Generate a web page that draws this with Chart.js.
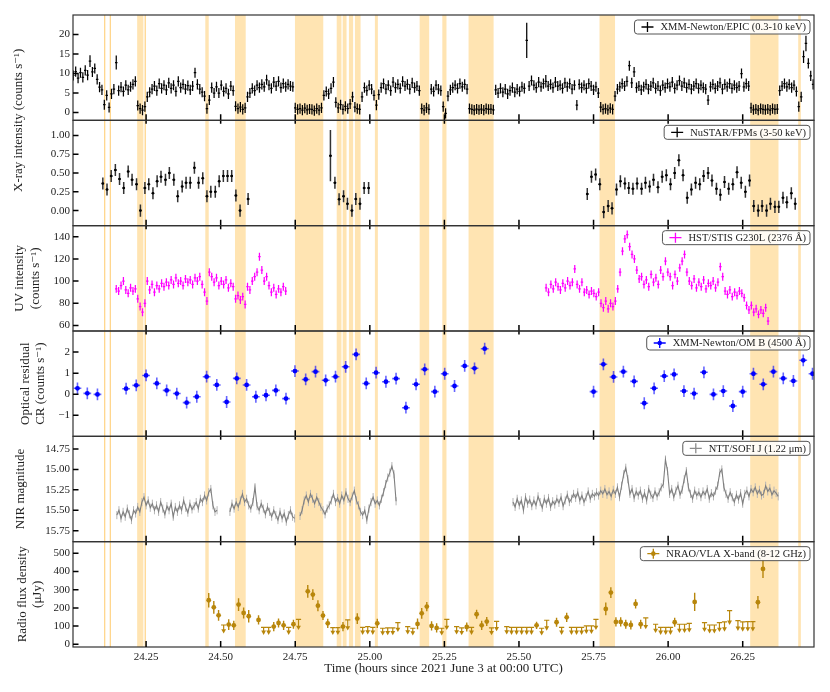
<!DOCTYPE html>
<html>
<head>
<meta charset="utf-8">
<script src="https://cdn.jsdelivr.net/npm/chart.js@4.4.1/dist/chart.umd.min.js"></script>
<style>
html, body { margin: 0; padding: 0; background: #fff; }
</style>
</head>
<body>
<canvas id="lc" width="830" height="692"></canvas>
<script>
// ---- x range, ticks and shaded intervals ----
const xMin = 24.005, xMax = 26.489;
const xTicks = [24.25, 24.5, 24.75, 25.0, 25.25, 25.5, 25.75, 26.0, 26.25];
const bandStart = [24.109, 24.128, 24.220, 24.245, 24.4485, 24.548, 24.749, 24.889, 24.909, 24.930, 24.950, 25.017, 25.167, 25.243, 25.331, 25.770, 26.275, 26.436];
const bandEnd   = [24.111, 24.130, 24.241, 24.249, 24.460, 24.584, 24.844, 24.905, 24.922, 24.944, 24.969, 25.027, 25.199, 25.257, 25.415, 25.822, 26.370, 26.445];

// ---- y tick values per panel ----
const ticksXray  = [0, 5, 10, 15, 20];
const ticksHard  = [0, 0.25, 0.5, 0.75, 1.0];
const ticksUV    = [60, 80, 100, 120, 140];
const ticksOpt   = [-1, 0, 1, 2];
const ticksNIR   = [14.75, 15.0, 15.25, 15.5, 15.75];
const ticksRadio = [0, 100, 200, 300, 400, 500];

// ---- XMM-Newton/EPIC (regular bins) ----
const xmmStart = 24.006, xmmStep = 0.008, xmmErr = 1.3;
const xmmRate = [
  9.5, 10.5, 8.8, 10.2, 9.0, 10.8, 9.6, 13.2, 10.4, 11.3,
  8.5, 6.5, 5.8, 2.0, 4.4, 1.3, 4.8, 6.0, 12.8, 5.6,
  6.5, 5.4, 7.0, 5.8, 6.6, 7.2, 8.0, 1.8, 1.0, 0.6,
  1.5, 4.0, 5.2, 6.0, 6.8, 5.6, 7.4, 6.2, 7.0, 5.8,
  7.6, 6.2, 7.0, 5.4, 8.0, 6.4, 7.2, 6.0, 6.9, 5.8,
  6.8, 10.2, 7.2, 6.0, 5.2, 4.2, 1.0, 3.2, 6.4, 5.0,
  6.6, 5.0, 7.0, 5.4, 6.2, 4.8, 6.8, 5.6, 1.6, 1.0,
  1.4, 0.8, 1.2, 4.0, 5.0, 6.2, 5.6, 7.0, 6.4, 7.2,
  6.6, 8.4, 7.0, 6.2, 7.8, 6.8, 8.0, 6.4, 7.4, 6.6,
  7.2, 6.8, 6.6, 1.2, 0.8, 1.0, 0.6, 1.1, 0.7, 0.9,
  0.8, 0.5, 1.0, 0.6, 1.2, 4.4, 5.4, 4.8, 6.2, 7.8,
  2.6, 1.2, 2.0, 0.8, 1.6, 1.0, 2.2, 4.0, 1.4, 1.0,
  0.8, 4.0, 6.4, 5.6, 7.0, 6.0, 4.4, 1.9, 4.6, 6.4,
  7.4, 6.0, 7.0, 5.6, 7.8, 6.4, 7.2, 6.2, 8.0, 6.8,
  7.2, 6.0, 7.6, 6.4, 6.8, 5.6, 1.0, 0.6, 1.2, 0.8,
  6.0, 5.4, 7.0, 6.0, 5.6, 1.5, -0.2, 4.2, 5.8, 6.4,
  7.0, 6.2, 7.4, 6.6, 7.2, 6.0, 1.0, 0.8, 0.6, 0.9,
  0.7, 0.9, 0.6, 1.0, 0.8, 0.9, 0.7, 5.8, 5.0, 6.2,
  5.2, 6.0, 4.8, 5.6, 6.4, 5.2, 6.0, 5.4, 6.6, 6.2,
  18.5, 6.8, 8.2, 7.0, 6.4, 7.8, 6.6, 7.4, 8.0, 6.8,
  7.2, 6.4, 7.8, 6.8, 7.0, 6.2, 7.6, 6.6, 7.4, 6.0,
  7.0, 1.9, 7.2, 6.4, 7.0, 6.2, 7.4, 6.8, 5.8, 6.6,
  5.0, 1.4, 0.8, 1.0, 0.7, 1.1, 0.8, 4.2, 6.0, 6.6,
  7.4, 6.8, 8.0, 12.0, 7.6, 10.4, 6.4, 6.8, 5.8, 6.6,
  7.2, 6.0, 6.8, 7.6, 6.2, 6.8, 5.6, 7.0, 6.4, 7.4,
  6.6, 7.8, 6.2, 7.0, 8.2, 6.8, 7.6, 6.4, 7.2, 6.0,
  6.8, 7.4, 6.2, 7.0, 6.4, 6.0, 3.2, 6.6, 7.2, 6.2,
  6.8, 7.6, 6.0, 7.2, 6.6, 7.4, 6.2, 7.0, 6.4, 6.8,
  10.0, 6.6, 7.4, 6.8, 1.2, 0.7, 0.9, 0.6, 1.0, 0.8,
  0.7, 0.9, 0.6, 1.0, 0.8, 0.9, 5.6, 6.8, 7.4, 6.6,
  7.2, 6.4, 7.0, 5.4, 1.5, 4.0, 14.3, 17.7, 12.6, 9.4, 7.2
];
const xmmBigIdx = [7, 18, 190, 198, 306, 307];
const xmmBigErr = [1.5, 1.8, 4.5, 1.6, 1.6, 2.0];

// ---- NuSTAR/FPMs ----
const nustarT = [
  24.105, 24.119, 24.133, 24.147, 24.161, 24.175, 24.190, 24.203, 24.218, 24.231, 24.246, 24.259, 24.273, 24.287, 24.300,
  24.315, 24.328, 24.343, 24.356, 24.371, 24.384, 24.398, 24.412, 24.426, 24.440, 24.454, 24.467, 24.482, 24.495, 24.509,
  24.523, 24.537, 24.551, 24.565, 24.592,
  24.868, 24.883, 24.897, 24.912, 24.925, 24.940, 24.953, 24.967, 24.981, 24.996,
  25.729, 25.743, 25.757, 25.771, 25.784, 25.799, 25.812, 25.827, 25.840, 25.855, 25.868, 25.882, 25.896, 25.911, 25.924,
  25.938, 25.951, 25.966, 25.980, 25.994, 26.008, 26.022, 26.036, 26.050, 26.064, 26.078, 26.092, 26.106, 26.119, 26.134,
  26.147, 26.162, 26.175, 26.189, 26.203, 26.217, 26.231, 26.245, 26.259, 26.273, 26.287, 26.302, 26.315, 26.330, 26.343,
  26.358, 26.371, 26.385, 26.398, 26.413, 26.426
];
const nustarRate = [
  0.36, 0.28, 0.46, 0.54, 0.42, 0.30, 0.52, 0.41, 0.35, 0.00, 0.30, 0.35, 0.23, 0.39, 0.45,
  0.41, 0.50, 0.41, 0.19, 0.32, 0.37, 0.37, 0.57, 0.37, 0.43, 0.19, 0.25, 0.25, 0.39, 0.46,
  0.46, 0.46, 0.20, 0.00, 0.155,
  0.73, 0.37, 0.15, 0.19, 0.09, 0.00, 0.155, 0.09, 0.30, 0.30,
  0.22, 0.45, 0.48, 0.35, -0.02, 0.06, 0.03, 0.28, 0.39, 0.36, 0.30, 0.29, 0.36, 0.29, 0.37,
  0.32, 0.41, 0.31, 0.45, 0.47, 0.35, 0.50, 0.67, 0.47, 0.17, 0.28, 0.37, 0.35, 0.46, 0.50,
  0.40, 0.29, 0.21, 0.38, 0.29, 0.35, 0.51, 0.37, 0.25, 0.40, 0.06, 0.00, 0.06, 0.00, 0.09,
  0.05, 0.05, 0.17, 0.11, 0.23, 0.09
];
const nustarErr = 0.08, nustarBigIdx = [35], nustarBigErr = [0.34];

// ---- HST/STIS G230L (two visits, regular bins) ----
const hstStep = 0.008, hstErr = 3.6;
const hstStart1 = 24.150;
const hstRate1 = [
  93, 91, 96, 100, 92, 89, 94, 91, 93, 84,
  77, 72, 80, 100, 92, 97, 90, 96, 93, 98,
  95, 99, 96, 101, 97, 103, 98, 100, 96, 102,
  99, 101, 97, 103, 100, 104, 97, 90, 82, 108,
  104, 99, 103, 96, 100, 97, 101, 94, 98, 95,
  84, 87, 83, 86, 79, 95, 92, 100, 104, 108,
  122, 110, 100, 104, 96, 90, 94, 88, 93, 90,
  95, 91
];
const hstStart2 = 25.591;
const hstRate2 = [
  94, 90, 97, 93, 99, 95, 92, 98, 94, 100,
  96, 99, 111, 97, 93, 99, 90, 92, 88, 91,
  89, 86, 90, 80, 76, 82, 75, 80, 77, 82,
  93, 108, 127, 138, 142, 131, 124, 120, 110, 102,
  104, 97, 101, 95, 106, 99, 103, 97, 110, 104,
  118, 108, 104, 96, 106, 100, 112, 118, 124, 108,
  100, 96, 102, 94, 99, 95, 101, 93, 98, 96,
  100, 94, 99, 113, 104, 91, 88, 92, 86, 90,
  87, 91, 89, 85, 78, 74, 78, 72, 75, 70,
  74, 71, 76, 64
];

// ---- XMM-Newton/OM B ----
const omT = [
  24.020, 24.053, 24.087, 24.183, 24.217, 24.250, 24.286, 24.319, 24.353, 24.386, 24.420, 24.453, 24.487, 24.520, 24.554,
  24.587, 24.618, 24.652, 24.685, 24.719, 24.749, 24.785, 24.818, 24.852, 24.885, 24.919, 24.954, 24.988, 25.021, 25.054,
  25.088, 25.121, 25.155, 25.184, 25.218, 25.251, 25.284, 25.318, 25.351, 25.385,
  25.750, 25.783, 25.817, 25.850, 25.886, 25.920, 25.953, 25.987, 26.020, 26.053, 26.087, 26.120, 26.152, 26.185, 26.217,
  26.250, 26.286, 26.319, 26.353, 26.386, 26.420, 26.453, 26.484
];
const omRate = [
  0.28, 0.04, -0.01, 0.26, 0.42, 0.89, 0.51, 0.18, 0.03, -0.40, -0.12, 0.83, 0.44, -0.37, 0.75,
  0.44, -0.12, -0.05, 0.18, -0.21, 1.10, 0.70, 1.07, 0.66, 0.83, 1.30, 1.89, 0.51, 1.02, 0.59,
  0.74, -0.64, 0.47, 1.18, 0.12, 0.97, 0.39, 1.34, 1.23, 2.16,
  0.12, 1.42, 0.82, 1.07, 0.61, -0.43, 0.28, 0.86, 0.94, 0.15, 0.03, 1.04, -0.01, 0.15, -0.56,
  0.12, 0.97, 0.47, 1.07, 0.75, 0.63, 1.61, 0.97
];
const omErrY = 0.28, omErrX = 0.013;

// ---- NTT/SOFI J (four runs, regular frames) ----
const nttStep = 0.007, nttErr = 0.05;
const nttStarts = [24.152, 24.531, 24.766, 25.480];
const nttMagA = [
  15.56, 15.50, 15.60, 15.52, 15.58, 15.48, 15.55, 15.62, 15.50, 15.54,
  15.46, 15.52, 15.40, 15.34, 15.44, 15.38, 15.47, 15.42, 15.50, 15.44,
  15.52, 15.40, 15.48, 15.55, 15.45, 15.50, 15.42, 15.58, 15.46, 15.52,
  15.44, 15.50, 15.38, 15.47, 15.53, 15.42, 15.49, 15.45, 15.40, 15.48,
  15.36, 15.40, 15.32, 15.38, 15.28, 15.24, 15.44, 15.52, 15.50
];
const nttMagB = [
  15.52, 15.42, 15.48, 15.40, 15.46, 15.38, 15.30, 15.40, 15.36, 15.44,
  15.48, 15.40, 15.22, 15.45, 15.50, 15.42, 15.48, 15.55, 15.46, 15.52,
  15.58, 15.50, 15.56, 15.62, 15.52, 15.60, 15.54, 15.64, 15.56, 15.50,
  15.58, 15.60
];
const nttMagC = [
  15.57, 15.50, 15.38, 15.32, 15.40, 15.30, 15.36, 15.42, 15.34, 15.40,
  15.46, 15.50, 15.55, 15.48, 15.44, 15.38, 15.30, 15.40, 15.35, 15.42,
  15.32, 15.38, 15.28, 15.36, 15.40, 15.33, 15.26, 15.38, 15.44, 15.52,
  15.56, 15.50, 15.62, 15.48, 15.40, 15.34, 15.42, 15.38, 15.44, 15.36,
  15.28, 15.18, 15.10, 15.04, 14.96, 15.06, 15.39
];
const nttMagD = [
  15.40, 15.46, 15.36, 15.44, 15.38, 15.50, 15.34, 15.42, 15.37, 15.45,
  15.38, 15.44, 15.33, 15.40, 15.47, 15.36, 15.42, 15.35, 15.46, 15.39,
  15.43, 15.36, 15.41, 15.34, 15.45, 15.38, 15.31, 15.40, 15.36, 15.30,
  15.35, 15.28, 15.38, 15.32, 15.40, 15.34, 15.27, 15.36, 15.30, 15.33,
  15.28, 15.32, 15.26, 15.30, 15.24, 15.31, 15.27, 15.33, 15.25, 15.30,
  15.22, 15.34, 15.20, 15.06, 14.98, 15.12, 15.30, 15.24, 15.35, 15.27,
  15.32, 15.26, 15.36, 15.29, 15.38, 15.24, 15.31, 15.35, 15.27, 15.33,
  15.28, 15.22, 15.18, 14.88, 15.02, 15.30, 15.24, 15.34, 15.26, 15.20,
  15.31, 15.25, 15.12, 15.02, 15.22, 15.30, 15.36, 15.26, 15.32, 15.28,
  15.34, 15.27, 15.31, 15.24, 15.36, 15.29, 15.33, 15.26, 15.20, 15.04,
  15.00, 15.22, 15.30, 15.36, 15.28, 15.34, 15.40, 15.31, 15.37, 15.29,
  15.42, 15.30, 15.26, 15.33, 15.24, 15.28, 15.22, 15.30, 15.25, 15.32,
  15.30, 15.20, 15.27, 15.23, 15.31, 15.26, 15.29, 15.33
];

// ---- NRAO/VLA X-band ----
const radioT = [
  24.460, 24.477, 24.493, 24.527, 24.544, 24.560, 24.577, 24.594, 24.627, 24.678, 24.694, 24.711, 24.744, 24.792, 24.809,
  24.826, 24.843, 24.859, 24.910, 24.958, 25.025, 25.160, 25.174, 25.191, 25.207, 25.224, 25.325, 25.358, 25.375, 25.392,
  25.559, 25.626, 25.660, 25.791, 25.808, 25.825, 25.841, 25.858, 25.875, 25.891, 25.908, 26.022, 26.089, 26.301, 26.318
];
const radioFlux = [
  242, 203, 159, 108, 104, 218, 172, 154, 134, 97, 117, 104, 110, 291, 273,
  212, 158, 115, 97, 141, 115, 112, 170, 207, 101, 90, 95, 165, 104, 125,
  104, 121, 148, 194, 284, 123, 123, 110, 106, 222, 110, 121, 233, 231, 414
];
const radioErr = [
  40, 35, 30, 30, 25, 35, 30, 35, 25, 25, 25, 25, 25, 35, 30,
  30, 25, 25, 25, 30, 25, 30, 30, 25, 25, 25, 25, 25, 25, 25,
  20, 25, 25, 35, 30, 25, 25, 25, 25, 25, 25, 25, 50, 35, 50
];
const radioLimT = [
  24.510, 24.644, 24.661, 24.728, 24.761, 24.876, 24.893, 24.926, 24.976, 24.993, 25.010, 25.043, 25.060, 25.077, 25.094,
  25.127, 25.144, 25.241, 25.258, 25.291, 25.308, 25.341, 25.408, 25.425, 25.459, 25.475, 25.492, 25.509, 25.526, 25.542,
  25.576, 25.593, 25.643, 25.676, 25.693, 25.710, 25.726, 25.743, 25.758, 25.925, 25.958, 25.975, 25.992, 26.008, 26.038,
  26.055, 26.071, 26.122, 26.139, 26.155, 26.172, 26.189, 26.206, 26.234, 26.250, 26.267, 26.284
];
const radioLim = [
  106, 93, 93, 93, 137, 92, 92, 134, 93, 97, 93, 88, 90, 90, 119,
  97, 88, 88, 137, 97, 90, 93, 90, 126, 97, 93, 93, 93, 93, 93,
  88, 132, 93, 93, 93, 93, 101, 101, 137, 145, 110, 93, 93, 93, 110,
  110, 115, 119, 106, 106, 119, 123, 185, 130, 123, 125, 125
];

const legendLabels = [
  'XMM-Newton/EPIC (0.3-10 keV)',
  'NuSTAR/FPMs (3-50 keV)',
  'HST/STIS G230L (2376 Å)',
  'XMM-Newton/OM B (4500 Å)',
  'NTT/SOFI J (1.22 μm)',
  'NRAO/VLA X-band (8-12 GHz)'
];

// ---------------------------------------------------------------
const SERIF = "'Liberation Serif', 'DejaVu Serif', serif";
Chart.defaults.font.family = SERIF;
Chart.defaults.color = '#222';

const GOLD = '#b8860b';
const panelIds = ['y1', 'y2', 'y3', 'y4', 'y5', 'y6'];
const legendColors = ['#000', '#000', '#ff00ff', '#0000ff', '#8c8c8c', GOLD];
const legendDot = [false, false, false, true, false, true];

function regular(start, step, vals) {
  return vals.map((v, i) => ({ x: start + i * step, y: v }));
}

const xmmData = regular(xmmStart, xmmStep, xmmRate);
const xmmErrs = xmmRate.map(() => xmmErr);
xmmBigIdx.forEach((k, j) => { xmmErrs[k] = xmmBigErr[j]; });

const nustarData = nustarT.map((t, i) => ({ x: t, y: nustarRate[i] }));
const nustarErrs = nustarT.map(() => nustarErr);
nustarBigIdx.forEach((k, j) => { nustarErrs[k] = nustarBigErr[j]; });

const hstData = regular(hstStart1, hstStep, hstRate1).concat(regular(hstStart2, hstStep, hstRate2));
const omData = omT.map((t, i) => ({ x: t, y: omRate[i] }));

// NIR runs joined by null points so the line breaks between them
const nttData = [];
[nttMagA, nttMagB, nttMagC, nttMagD].forEach((run, k) => {
  if (k > 0) nttData.push({ x: nttStarts[k] - 0.003, y: null });
  regular(nttStarts[k], nttStep, run).forEach(p => nttData.push(p));
});

const radioData = radioT.map((t, i) => ({ x: t, y: radioFlux[i] }));
const radioLimData = radioLimT.map((t, i) => ({ x: t, y: radioLim[i] }));

// stacked panels: the axis with the larger weight is placed higher
function yAxis(k, min, max, ticks, fmt, reverse) {
  return {
    type: 'linear', position: 'left', stack: 'panels', stackWeight: 1, weight: 7 - k,
    min: min, max: max, reverse: !!reverse,
    grid: { display: false, drawTicks: false },
    border: { display: false },
    ticks: { font: { size: 11 }, color: '#222', padding: 3, autoSkip: false, callback: fmt },
    afterBuildTicks: s => { s.ticks = ticks.map(v => ({ value: v })); },
    afterFit: s => { s.width = 73; }
  };
}
const plain = v => (v < 0 ? '\u2212' + Math.abs(v) : String(v));
const two = v => v.toFixed(2);

const yTitles = [
  { lines: ['X-ray intensity (counts s\u207B\u00B9)'], xs: [19], panel: 0, at: 'bottom' },
  { lines: ['UV intensity', '(counts s\u207B\u00B9)'], xs: [20, 36], panel: 2 },
  { lines: ['Optical residual', 'CR (counts s\u207B\u00B9)'], xs: [26, 41], panel: 3 },
  { lines: ['NIR magnitude'], xs: [21], panel: 4 },
  { lines: ['Radio flux density', '(\u03BCJy)'], xs: [22.5, 37.5], panel: 5 }
];

const decor = {
  id: 'decor',
  beforeDatasetsDraw(chart) {
    const { ctx, chartArea: a, scales } = chart;
    const xs = scales.x;
    ctx.save();
    // shaded intervals across all panels
    for (let i = 0; i < bandStart.length; i++) {
      const x0 = xs.getPixelForValue(bandStart[i]);
      const x1 = xs.getPixelForValue(bandEnd[i]);
      const w = Math.max(x1 - x0, 1.3);
      ctx.fillStyle = w < 2 ? 'rgba(255,165,0,0.45)' : 'rgba(255,165,0,0.3)';
      ctx.fillRect(x0, a.top, w, a.bottom - a.top);
    }
    // error bars and upper limits
    chart.data.datasets.forEach(ds => {
      if (ds.errY === undefined && !ds.upperLimit) return;
      const ys = scales[ds.yAxisID];
      ctx.save();
      ctx.beginPath();
      ctx.rect(a.left, ys.top, a.right - a.left, ys.bottom - ys.top);
      ctx.clip();
      ctx.strokeStyle = ds.errColor;
      ctx.fillStyle = ds.errColor;
      ctx.lineWidth = ds.errWidth;
      ds.data.forEach((p, i) => {
        if (p.y === null) return;
        const px = xs.getPixelForValue(p.x);
        const py = ys.getPixelForValue(p.y);
        if (ds.upperLimit) {
          const tip = ys.getPixelForValue(p.y * 0.6);
          ctx.beginPath();
          ctx.moveTo(px - 2.6, py); ctx.lineTo(px + 2.6, py);
          ctx.moveTo(px, py); ctx.lineTo(px, tip - 2);
          ctx.stroke();
          ctx.beginPath();
          ctx.moveTo(px - 2.4, tip - 3.5); ctx.lineTo(px + 2.4, tip - 3.5); ctx.lineTo(px, tip + 0.8);
          ctx.closePath(); ctx.fill();
          return;
        }
        const e = Array.isArray(ds.errY) ? ds.errY[i] : ds.errY;
        ctx.beginPath();
        ctx.moveTo(px, ys.getPixelForValue(p.y - e));
        ctx.lineTo(px, ys.getPixelForValue(p.y + e));
        if (ds.errX) {
          ctx.moveTo(xs.getPixelForValue(p.x - ds.errX), py);
          ctx.lineTo(xs.getPixelForValue(p.x + ds.errX), py);
        }
        ctx.stroke();
      });
      ctx.restore();
    });
    ctx.restore();
  },
  afterDraw(chart) {
    const { ctx, chartArea: a, scales } = chart;
    const xs = scales.x;
    ctx.save();
    panelIds.forEach((id, k) => {
      const s = scales[id];
      // frame
      ctx.strokeStyle = '#333';
      ctx.lineWidth = 1.2;
      ctx.strokeRect(a.left, s.top, a.right - a.left, s.bottom - s.top);
      // inward tick marks
      ctx.strokeStyle = '#000';
      ctx.lineWidth = 1.5;
      ctx.beginPath();
      s.ticks.forEach(t => {
        const py = s.getPixelForValue(t.value);
        ctx.moveTo(a.left, py); ctx.lineTo(a.left + 5.5, py);
      });
      xTicks.forEach(v => {
        const px = xs.getPixelForValue(v);
        ctx.moveTo(px, s.bottom - 6); ctx.lineTo(px, s.bottom + (k < 5 ? 3.5 : 0));
      });
      ctx.stroke();

      // legend box
      ctx.font = '10.5px ' + SERIF;
      const txt = legendLabels[k];
      const tw = ctx.measureText(txt).width;
      const right = a.right - 4, top = s.top + 5, h = 14;
      const left = right - tw - 30;
      ctx.beginPath();
      ctx.roundRect(left, top, right - left, h, 3);
      ctx.fillStyle = 'rgba(255,255,255,0.85)';
      ctx.fill();
      ctx.strokeStyle = '#555';
      ctx.lineWidth = 1;
      ctx.stroke();
      const mx = left + 13, my = top + h / 2;
      ctx.strokeStyle = legendColors[k];
      ctx.lineWidth = 1.3;
      ctx.beginPath();
      ctx.moveTo(mx - 6, my); ctx.lineTo(mx + 6, my);
      ctx.moveTo(mx, my - 5); ctx.lineTo(mx, my + 5);
      ctx.stroke();
      if (legendDot[k]) {
        ctx.fillStyle = legendColors[k];
        ctx.beginPath(); ctx.arc(mx, my, 2.3, 0, Math.PI * 2); ctx.fill();
      }
      ctx.fillStyle = '#222';
      ctx.textAlign = 'left';
      ctx.textBaseline = 'middle';
      ctx.fillText(txt, left + 26, my + 0.5);
    });

    // y axis titles
    ctx.font = '13px ' + SERIF;
    ctx.fillStyle = '#222';
    ctx.textAlign = 'center';
    ctx.textBaseline = 'middle';
    yTitles.forEach(t => {
      const s = scales[panelIds[t.panel]];
      const yc = t.at === 'bottom' ? s.bottom : (s.top + s.bottom) / 2;
      t.lines.forEach((line, j) => {
        ctx.save();
        ctx.translate(t.xs[j], yc);
        ctx.rotate(-Math.PI / 2);
        ctx.fillText(line, 0, 0);
        ctx.restore();
      });
    });
    ctx.restore();
  }
};

const datasets = [
  { data: xmmData, yAxisID: 'y1', pointRadius: 0, errY: xmmErrs, errX: 0.0042, errColor: '#000', errWidth: 1.25 },
  { data: nustarData, yAxisID: 'y2', pointRadius: 1.3, backgroundColor: '#000', borderWidth: 0,
    errY: nustarErrs, errX: 0.0045, errColor: '#333', errWidth: 1.5 },
  { data: hstData, yAxisID: 'y3', pointRadius: 0, errY: hstErr, errX: 0.0042, errColor: '#ff00ff', errWidth: 1.25 },
  { data: omData, yAxisID: 'y4', pointRadius: 2.4, backgroundColor: '#0000ff', borderWidth: 0,
    errY: omErrY, errX: omErrX, errColor: 'rgba(0,0,255,0.6)', errWidth: 1.6 },
  { data: nttData, yAxisID: 'y5', showLine: true, spanGaps: false, borderColor: '#7f7f7f', borderWidth: 1.1,
    pointRadius: 0, errY: nttErr, errColor: '#b5b5b5', errWidth: 1 },
  { data: radioData, yAxisID: 'y6', pointRadius: 2.4, backgroundColor: GOLD, borderWidth: 0,
    errY: radioErr, errColor: GOLD, errWidth: 1.4 },
  { data: radioLimData, yAxisID: 'y6', pointRadius: 0, upperLimit: true, errColor: GOLD, errWidth: 1.2 }
];

new Chart(document.getElementById('lc'), {
  type: 'scatter',
  data: { datasets: datasets },
  options: {
    responsive: false,
    animation: false,
    events: [],
    layout: { padding: { top: 15, right: 16, left: 0, bottom: 0 } },
    plugins: { legend: { display: false }, tooltip: { enabled: false } },
    scales: {
      x: {
        type: 'linear', position: 'bottom', min: xMin, max: xMax,
        grid: { display: false, drawTicks: false },
        border: { display: false },
        ticks: { font: { size: 11 }, color: '#222', padding: 4, autoSkip: false, maxRotation: 0,
                 callback: v => v.toFixed(2) },
        afterBuildTicks: s => { s.ticks = xTicks.map(v => ({ value: v })); },
        title: { display: true, text: 'Time (hours since 2021 June 3 at 00:00 UTC)',
                 font: { size: 13 }, color: '#222', padding: { top: 0, bottom: 16 } },
        afterFit: s => { s.height = 45; }
      },
      y1: yAxis(1, -2, 25, ticksXray, plain),
      y2: yAxis(2, -0.2, 1.2, ticksHard, two),
      y3: yAxis(3, 55, 150, ticksUV, plain),
      y4: yAxis(4, -2, 3, ticksOpt, plain),
      y5: yAxis(5, 14.595, 15.885, ticksNIR, two, true),
      y6: yAxis(6, -15, 564, ticksRadio, plain)
    }
  },
  plugins: [decor]
});
</script>
</body>
</html>
